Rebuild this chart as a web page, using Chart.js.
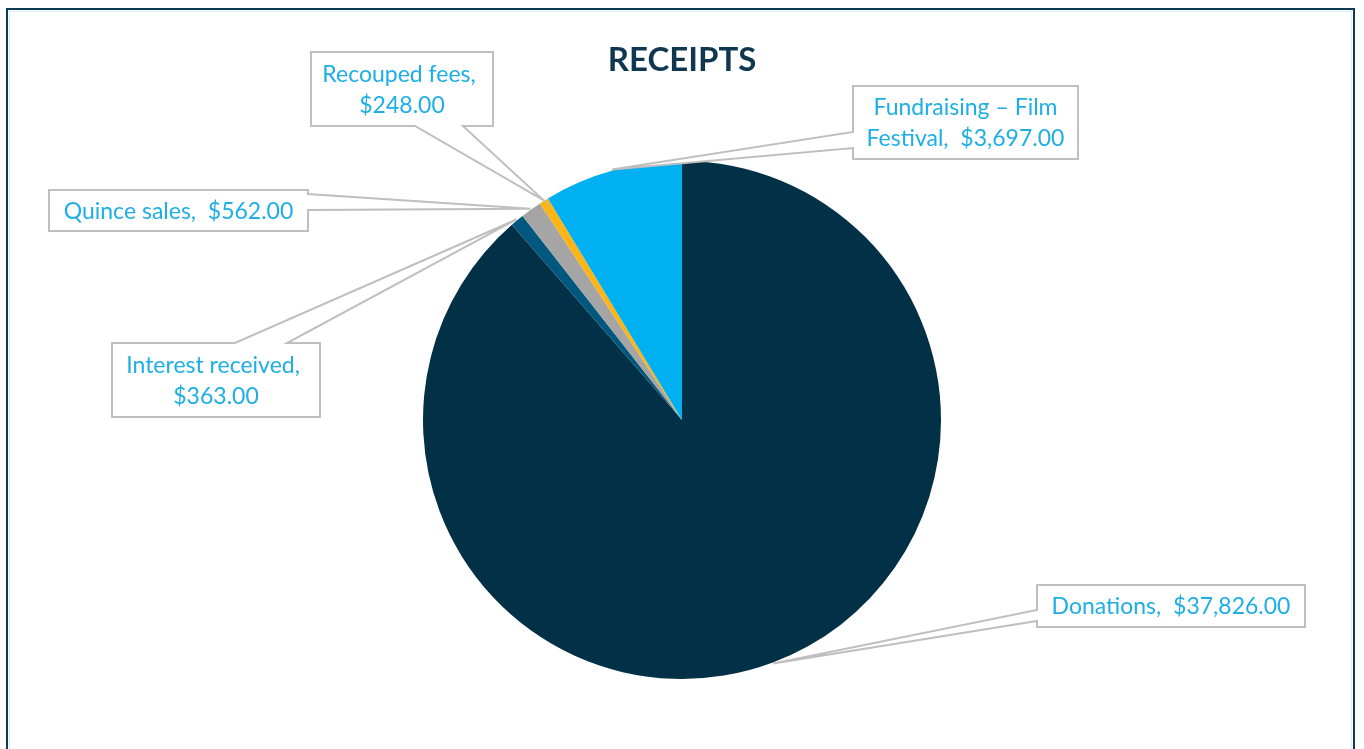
<!DOCTYPE html>
<html>
<head>
<meta charset="utf-8">
<script src="https://cdn.jsdelivr.net/npm/chart.js@4.4.1/dist/chart.umd.min.js"></script>
<style>
  html, body { margin: 0; padding: 0; background: #fff; }
  #wrap { width: 1364px; height: 749px; position: relative; }
</style>
</head>
<body>
<div id="wrap"><canvas id="receipts"></canvas></div>
<script>
// data
const categories = ["Donations", "Interest received", "Quince sales", "Recouped fees", "Fundraising \u2013 Film Festival"];
const amounts = [37826, 363, 562, 248, 3697];
const sliceColors = ["#023047", "#02577f", "#a5a5a5", "#fdb515", "#00b0f0"];

// callout boxes (x, y, w, h) and where the pointer leaves the box
const callouts = [
  { box: [1037, 585, 268, 42], side: "left", a: 610, b: 621 },
  { box: [112, 343, 208, 74], side: "top", a: 235, b: 287 },
  { box: [49, 190, 259, 41], side: "right", a: 194, b: 210 },
  { box: [311, 52, 182, 74], side: "bottom", a: 415, b: 463 },
  { box: [853, 86, 225, 73], side: "left", a: 132, b: 148 }
];

const labelFont = "23px Lato";
const labelColor = "#1eaee6";

function money(v) {
  return "$" + v.toLocaleString("en-US", { minimumFractionDigits: 2, maximumFractionDigits: 2 });
}

function wrapText(ctx, text, maxW) {
  const words = text.split(" ");
  const lines = [];
  let cur = "";
  words.forEach(w => {
    const test = cur === "" ? w : cur + " " + w;
    if (ctx.measureText(test).width > maxW && cur !== "") {
      lines.push(cur);
      cur = w;
    } else {
      cur = test;
    }
  });
  lines.push(cur);
  return lines;
}

const calloutPlugin = {
  id: "callouts",
  afterDraw(chart) {
    const ctx = chart.ctx;
    const meta = chart.getDatasetMeta(0);

    // frame
    ctx.save();
    ctx.strokeStyle = "#0b3a55";
    ctx.lineWidth = 2;
    ctx.strokeRect(7, 9, 1347, 760);
    ctx.strokeStyle = "#d6f1fb";
    ctx.lineWidth = 1;
    ctx.strokeRect(9.5, 11.5, 1342, 760);

    // title
    ctx.fillStyle = "#0f3850";
    ctx.font = "bold 33px Lato";
    ctx.textAlign = "center";
    ctx.textBaseline = "middle";
    ctx.fillText("RECEIPTS", chart.width / 2, 60);

    meta.data.forEach((arc, i) => {
      const p = arc.getProps(["x", "y", "startAngle", "endAngle", "outerRadius"], true);
      const mid = (p.startAngle + p.endAngle) / 2;
      const tx = p.x + Math.cos(mid) * (p.outerRadius + 1);
      const ty = p.y + Math.sin(mid) * (p.outerRadius + 1);
      const c = callouts[i];
      const [bx, by, bw, bh] = c.box;

      ctx.beginPath();
      ctx.moveTo(bx, by);
      if (c.side === "top") {
        ctx.lineTo(c.a, by); ctx.lineTo(tx, ty); ctx.lineTo(c.b, by);
      }
      ctx.lineTo(bx + bw, by);
      if (c.side === "right") {
        ctx.lineTo(bx + bw, c.a); ctx.lineTo(tx, ty); ctx.lineTo(bx + bw, c.b);
      }
      ctx.lineTo(bx + bw, by + bh);
      if (c.side === "bottom") {
        ctx.lineTo(c.b, by + bh); ctx.lineTo(tx, ty); ctx.lineTo(c.a, by + bh);
      }
      ctx.lineTo(bx, by + bh);
      if (c.side === "left") {
        ctx.lineTo(bx, c.b); ctx.lineTo(tx, ty); ctx.lineTo(bx, c.a);
      }
      ctx.closePath();
      ctx.fillStyle = "#ffffff";
      ctx.fill();
      ctx.strokeStyle = "#bfbfbf";
      ctx.lineWidth = 2;
      ctx.lineJoin = "miter";
      ctx.stroke();

      ctx.font = labelFont;
      ctx.fillStyle = labelColor;
      const text = categories[i] + ",  " + money(amounts[i]);
      const lines = wrapText(ctx, text, bw - 12);
      const lh = 31;
      const cy = by + bh / 2;
      lines.forEach((ln, k) => {
        ctx.fillText(ln, bx + bw / 2, cy + (k - (lines.length - 1) / 2) * lh + 1);
      });
    });
    ctx.restore();
  }
};

new Chart(document.getElementById("receipts"), {
  type: "pie",
  data: {
    labels: categories,
    datasets: [{
      data: amounts,
      backgroundColor: sliceColors,
      borderWidth: 0
    }]
  },
  options: {
    responsive: true,
    maintainAspectRatio: false,
    animation: false,
    layout: { padding: { top: 161, bottom: 70, left: 400, right: 400 } },
    plugins: {
      legend: { display: false },
      title: { display: false },
      tooltip: { enabled: false }
    }
  },
  plugins: [calloutPlugin]
});
</script>
</body>
</html>
